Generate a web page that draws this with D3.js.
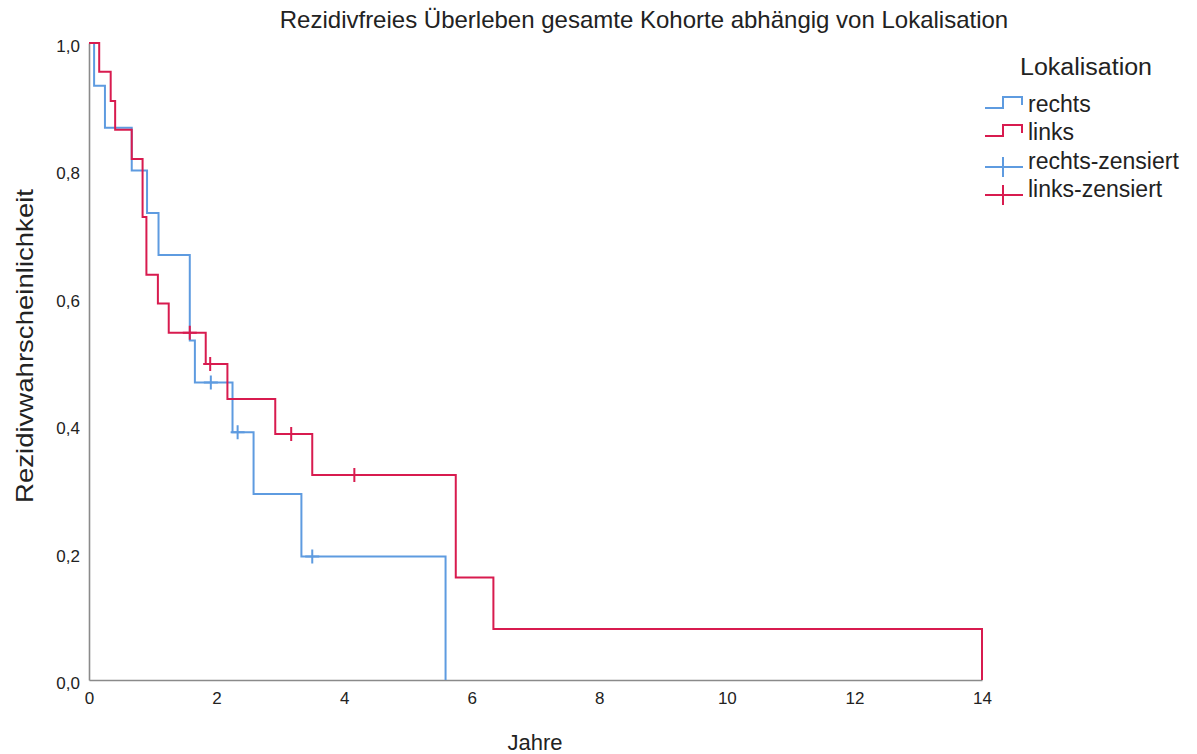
<!DOCTYPE html>
<html>
<head>
<meta charset="utf-8">
<script src="https://cdn.jsdelivr.net/npm/d3@7"></script>
<style>
  html, body { margin: 0; padding: 0; background: #fff; }
  svg { display: block; font-family: "Liberation Sans", Arial, sans-serif; }
</style>
</head>
<body>
<svg id="chart" width="1197" height="754"></svg>
<script>
// Kaplan-Meier step points: [time in years, survival after the step]
const rechtsSteps = [
  [0, 1.0], [0.08, 0.933], [0.25, 0.867], [0.67, 0.800], [0.91, 0.733],
  [1.09, 0.667], [1.58, 0.533], [1.66, 0.467], [2.25, 0.389], [2.58, 0.292],
  [3.33, 0.194], [5.59, 0.0]
];
const linksSteps = [
  [0, 1.0], [0.16, 0.955], [0.34, 0.909], [0.41, 0.864], [0.67, 0.818],
  [0.84, 0.727], [0.90, 0.636], [1.08, 0.591], [1.25, 0.545], [1.83, 0.496],
  [2.17, 0.441], [2.92, 0.386], [3.50, 0.322], [5.75, 0.161], [6.34, 0.080],
  [14.0, 0.0]
];
// censored observations: [time, survival]
const rechtsCensored = [[1.91, 0.467], [2.33, 0.389], [3.50, 0.194]];
const linksCensored = [[1.58, 0.545], [1.90, 0.496], [3.17, 0.386], [4.16, 0.322]];

const xTicks = [0, 2, 4, 6, 8, 10, 12, 14];
const yTicks = [0, 0.2, 0.4, 0.6, 0.8, 1.0];

const seriesNames = ["rechts", "links"];
const legendLabels = ["rechts", "links", "rechts-zensiert", "links-zensiert"];
const colors = { rechts: "#5e9be0", links: "#d81b4f" };

const titleText = "Rezidivfreies Überleben gesamte Kohorte abhängig von Lokalisation";
const xLabel = "Jahre";
const yLabel = "Rezidivwahrscheinlichkeit";
const legendTitle = "Lokalisation";

const svg = d3.select("#chart");
const fmt = d => d3.format(".1f")(d).replace(".", ",");

const x = d3.scaleLinear().domain([0, 14]).range([89, 982]);
const y = d3.scaleLinear().domain([0, 1]).range([680, 43]);

// axes (no tick marks, gray domain lines)
const xAxis = svg.append("g").attr("transform", `translate(0,${y(0)})`)
  .call(d3.axisBottom(x).tickValues(xTicks).tickSize(0).tickPadding(12).tickFormat(d3.format("d")));
const yAxis = svg.append("g").attr("transform", `translate(${x(0)},0)`)
  .call(d3.axisLeft(y).tickValues(yTicks).tickSize(0).tickPadding(9).tickFormat(fmt));
[xAxis, yAxis].forEach(g => {
  g.select(".domain").attr("stroke", "#8a8a8a").attr("stroke-width", 1.6);
  g.selectAll("text").attr("fill", "#222").attr("font-size", 17)
    .attr("font-family", "'Liberation Sans', Arial, sans-serif");
});
yAxis.selectAll("text").attr("dy", "0.5em");

// survival curves, drawn as explicit horizontal/vertical steps
const curves = { rechts: rechtsSteps, links: linksSteps };
const censored = { rechts: rechtsCensored, links: linksCensored };

seriesNames.forEach(name => {
  const pts = curves[name];
  const path = [];
  pts.forEach((p, i) => {
    if (i > 0) path.push([p[0], pts[i - 1][1]]);
    path.push(p);
  });
  svg.append("path")
    .datum(path)
    .attr("fill", "none")
    .attr("stroke", colors[name])
    .attr("stroke-width", 2)
    .attr("d", d3.line().x(d => x(d[0])).y(d => y(d[1])));

  // censor ticks
  svg.append("g").selectAll("path")
    .data(censored[name])
    .join("path")
    .attr("fill", "none")
    .attr("stroke", colors[name])
    .attr("stroke-width", 2)
    .attr("d", d => {
      const cx = x(d[0]), cy = y(d[1]);
      return `M${cx - 7},${cy}H${cx + 7}M${cx},${cy - 7}V${cy + 7}`;
    });
});

// title and axis labels
svg.append("text").attr("x", 644).attr("y", 28).attr("text-anchor", "middle")
  .attr("font-size", 24).attr("fill", "#222").text(titleText);
svg.append("text").attr("x", 535).attr("y", 750).attr("text-anchor", "middle")
  .attr("font-size", 22).attr("fill", "#222").text(xLabel);
svg.append("text").attr("transform", "translate(33,346) rotate(-90)")
  .attr("text-anchor", "middle").attr("font-size", 24)
  .attr("textLength", 314).attr("lengthAdjust", "spacingAndGlyphs")
  .attr("fill", "#222").text(yLabel);

// legend
const lg = svg.append("g");
lg.append("text").attr("x", 1086).attr("y", 75).attr("text-anchor", "middle")
  .attr("font-size", 23).attr("textLength", 132).attr("lengthAdjust", "spacingAndGlyphs")
  .attr("fill", "#222").text(legendTitle);
const rowY = [104, 132, 161, 189];
legendLabels.forEach((lab, i) => {
  const name = i % 2 === 0 ? "rechts" : "links";
  const cy = rowY[i];
  let d;
  if (i < 2) {
    d = `M985,${cy + 4}H1003V${cy - 7}H1022V${cy + 1}`;
  } else {
    d = `M985,${cy + 6}H1023M1003,${cy - 4}V${cy + 16}`;
  }
  lg.append("path").attr("d", d).attr("fill", "none")
    .attr("stroke", colors[name]).attr("stroke-width", 2);
  lg.append("text").attr("x", 1028).attr("y", cy + 8)
    .attr("font-size", 23).attr("fill", "#222").text(lab);
});
</script>
</body>
</html>
